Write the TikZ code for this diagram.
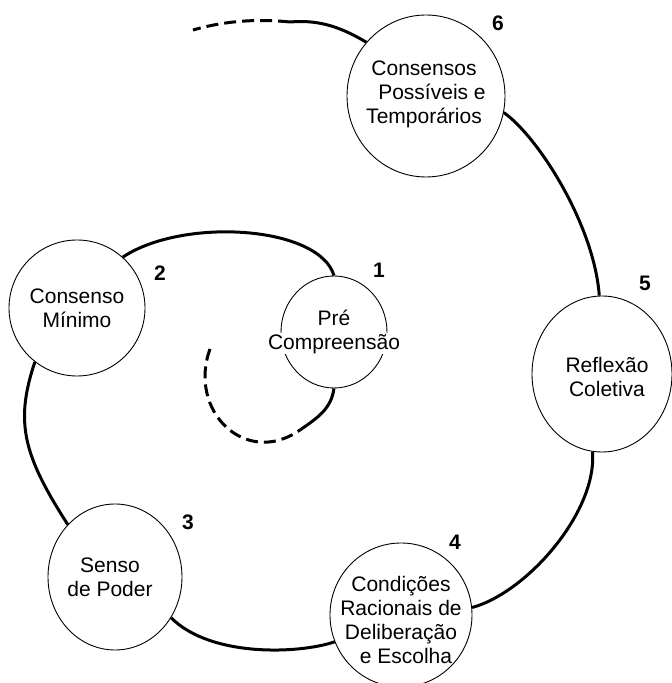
\documentclass[tikz,border=0pt]{standalone}
\usepackage{fontspec}
\setmainfont{Liberation Sans}
\usetikzlibrary{shapes.geometric}
\setlength{\fboxsep}{1pt}
\begin{document}
\begin{tikzpicture}
[x=1pt,y=1pt,
etapa/.style={draw,ellipse,inner sep=0pt,line width=0.9pt},
texto/.style={align=center,inner sep=0pt,font=\fontsize{21}{24}\selectfont},
num/.style={inner sep=0pt,font=\bfseries\fontsize{21}{21}\selectfont},
elo/.style={line width=3pt},
tracejado/.style={line width=3pt,dash pattern=on 12pt off 6pt}]
\useasboundingbox (0,0) rectangle (672,683);
\node[etapa,minimum width=106,minimum height=112] (pre) at (334,351) {};
\node[etapa,minimum width=136,minimum height=136] (minimo) at (77,375) {};
\node[etapa,minimum width=134,minimum height=146] (poder) at (115,106) {};
\node[etapa,minimum width=142,minimum height=144] (cond) at (401,68) {};
\node[etapa,minimum width=140,minimum height=156] (reflexao) at (602,309) {};
\node[etapa,minimum width=158,minimum height=162] (consensos) at (426,587) {};
\node[texto] (pre-t) at (pre) {Pré\\\colorbox{white}{Compreensão}};
\node[texto] (minimo-t) at (minimo) {Consenso\\Mínimo};
\node[texto] (poder-t) at (110,106) {Senso\\de Poder};
\node[texto] (cond-t) at (401,63) {Condições\\Racionais de\\Deliberação\\\hspace*{10pt}e Escolha};
\node[texto] (reflexao-t) at (607,306) {Reflexão\\Coletiva};
\node[texto] (consensos-t) at (424,589) {Consensos\\\hspace*{16pt}Possíveis e\\Temporários};
\node[num] (n1) at (379,413) {1};
\node[num] (n2) at (160,410) {2};
\node[num] (n3) at (188,161) {3};
\node[num] (n4) at (455,141) {4};
\node[num] (n5) at (645,400) {5};
\node[num] (n6) at (498,660) {6};
\coordinate (ini) at (210,334);
\coordinate (ini-b) at (300,253);
\coordinate (fim) at (290,661);
\coordinate (fim-b) at (193,653);
\draw[tracejado] (ini) to[out=250,in=215,looseness=1.4] (ini-b);
\draw[elo] (ini-b) to[out=35,in=262] (pre.south);
\draw[elo] (pre.north) .. controls +(-15,50) and +(60,40) .. (minimo.48);
\draw[elo] (minimo.232) .. controls +(-20,-60) and +(-45,70) .. (poder.132);
\draw[elo] (poder.-36) .. controls +(40,-40) and +(-35,-12) .. (cond.202);
\draw[elo] (cond.6) .. controls +(55,15) and +(5,-60) .. (reflexao.263);
\draw[elo] (reflexao.92) .. controls +(-5,70) and +(35,-25) .. (consensos.-12);
\draw[elo] (consensos.138) .. controls +(-30,18) and +(25,2) .. (fim);
\draw[tracejado] (fim) .. controls +(-30,3) and +(35,10) .. (fim-b);
\end{tikzpicture}
\end{document}
